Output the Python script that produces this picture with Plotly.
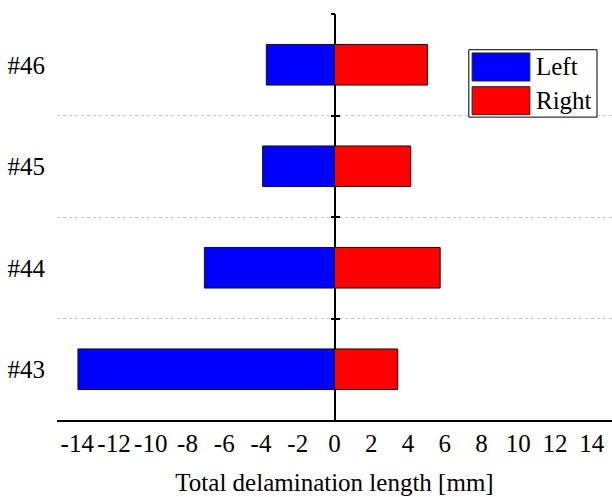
import plotly.graph_objects as go

# ---- data ----
specimens = ["#43", "#44", "#45", "#46"]
left_vals = [-13.96, -7.08, -3.91, -3.71]
right_vals = [3.44, 5.75, 4.15, 5.06]
series_names = ["Left", "Right"]
series_colors = ["#0000ff", "#ff0000"]
x_ticks = list(range(-14, 15, 2))
x_title = "Total delamination length [mm]"

FONT = "Liberation Serif"
FS = 25
ypos = list(range(len(specimens)))
bounds = [i + 0.5 for i in range(len(specimens))]

fig = go.Figure()
for name, color, vals in zip(series_names, series_colors, [left_vals, right_vals]):
    fig.add_trace(go.Bar(
        y=ypos, x=vals, orientation="h", name=name, width=0.4,
        marker=dict(color=color, line=dict(color="#111111", width=1)),
        showlegend=False,
    ))

fig.update_layout(
    width=612, height=497,
    margin=dict(l=57, r=0, t=14, b=77),
    paper_bgcolor="white", plot_bgcolor="white",
    barmode="relative",
    font=dict(family=FONT, size=FS, color="black"),
    xaxis=dict(
        range=[-15.1, 15.1], tickvals=x_ticks, ticktext=[str(v) for v in x_ticks],
        showgrid=False, zeroline=True, zerolinecolor="black", zerolinewidth=1.5,
        showline=True, linecolor="black", linewidth=1.5, ticks="",
        tickfont=dict(family=FONT, size=FS), ticklabelstandoff=0,
        title=dict(text=x_title, font=dict(family=FONT, size=FS), standoff=18),
    ),
    yaxis=dict(
        range=[-0.5, 3.5], tickvals=ypos, ticktext=specimens,
        showgrid=False, zeroline=False, showline=False, ticks="",
        tickfont=dict(family=FONT, size=FS), ticklabelstandoff=11,
    ),
    yaxis2=dict(
        overlaying="y", anchor="free", position=0.5, range=[-0.5, 3.5],
        tickvals=bounds[:-1], showticklabels=False, ticks="",
        showgrid=True, gridcolor="#c8c8c8", griddash="dot", gridwidth=1,
        zeroline=False, showline=False,
    ),
    yaxis3=dict(
        overlaying="y", anchor="free", position=0.5, range=[-0.5, 3.5],
        tickvals=bounds, showticklabels=False, ticks="outside", ticklen=4,
        tickwidth=1.5, tickcolor="black", showgrid=False, zeroline=False, showline=False,
    ),
    yaxis4=dict(
        overlaying="y", anchor="free", position=0.5, range=[-0.5, 3.5],
        tickvals=bounds, showticklabels=False, ticks="inside", ticklen=4,
        tickwidth=1.5, tickcolor="black", showgrid=False, zeroline=False, showline=False,
    ),
)
# dummy invisible traces to activate the overlay axes
for ax in ["y2", "y3", "y4"]:
    fig.add_trace(go.Scatter(x=[None], y=[None], yaxis=ax, showlegend=False, hoverinfo="skip"))

# ---- custom legend (large swatches) ----
box_x0, box_x1 = 0.742, 0.973
box_y1, box_y0 = 0.912, 0.746
fig.add_shape(type="rect", xref="paper", yref="paper", x0=box_x0, x1=box_x1,
              y0=box_y0, y1=box_y1, line=dict(color="black", width=1),
              fillcolor="white", layer="above")
row_h = (box_y1 - box_y0) / len(series_names)
for i, (name, color) in enumerate(zip(series_names, series_colors)):
    top = box_y1 - i * row_h
    fig.add_shape(type="rect", xref="paper", yref="paper",
                  x0=box_x0 + 0.006, x1=box_x0 + 0.110,
                  y0=top - row_h + 0.006, y1=top - 0.008,
                  fillcolor=color, line=dict(color="#222222", width=1), layer="above")
    fig.add_annotation(xref="paper", yref="paper", x=box_x0 + 0.117, y=top - row_h / 2,
                       text=name, showarrow=False, xanchor="left", yanchor="middle",
                       font=dict(family=FONT, size=FS, color="black"))

fig.write_html("out.html")
